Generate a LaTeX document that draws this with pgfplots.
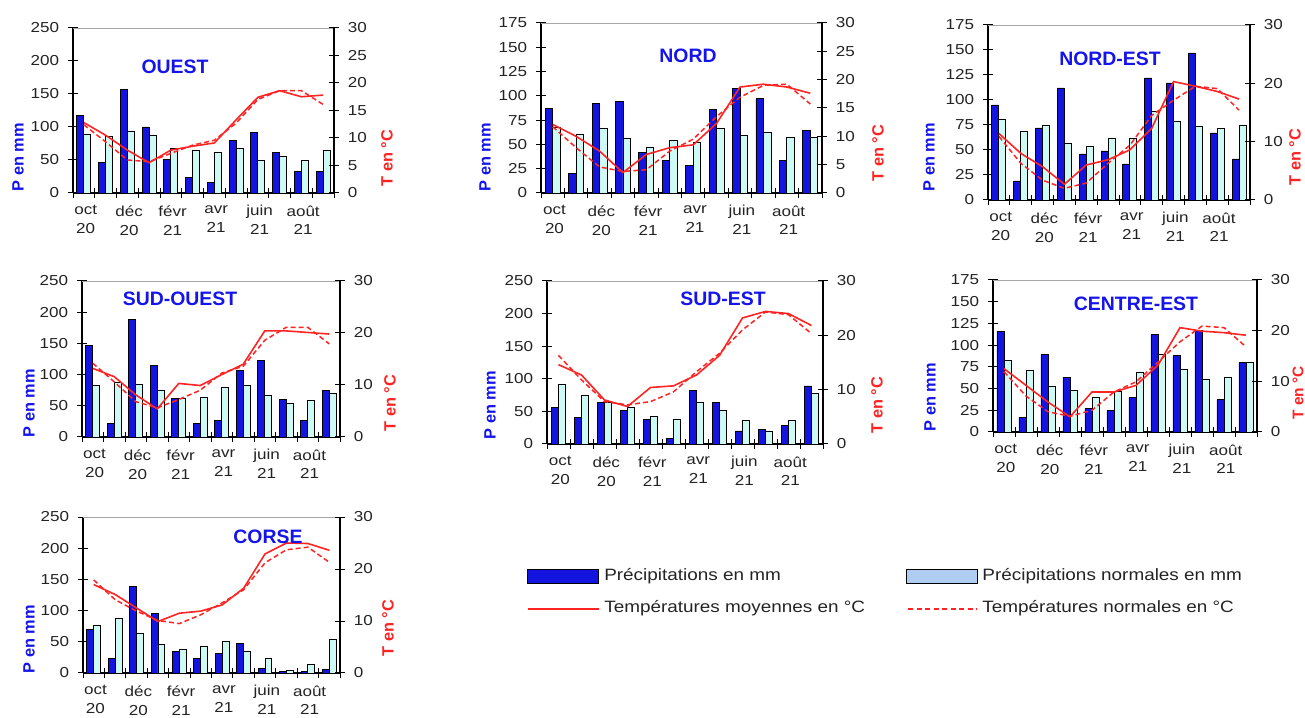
\documentclass[border=0pt]{standalone}
\usepackage{fontspec}
\setmainfont{Liberation Sans}
\usepackage{graphicx}
\usepackage{pgfplots}
\usepackage{pgfplotstable}
\pgfplotsset{compat=1.18}

\definecolor{pblue}{RGB}{20,20,225}
\definecolor{pnorm}{RGB}{205,250,245}
\definecolor{lgnorm}{RGB}{175,205,240}
\definecolor{tred}{RGB}{255,35,35}
\definecolor{tblue}{RGB}{20,20,235}
\definecolor{ticktext}{RGB}{35,35,35}

% m = month index (0 = oct 20 ... 11 = sept 21)
\pgfplotstableread{
m P PN T TN
0 117 89 12.8 12.4
1 46 86 10.5 9.3
2 157 94 7.8 6.0
3 100 87 5.5 5.7
4 51 67 7.8 7.2
5 24 64 8.5 8.7
6 16 62 9.1 9.6
7 80 67 13.3 12.7
8 92 49 17.4 17.0
9 62 55 18.6 18.6
10 32 50 17.5 18.6
11 32 64 17.8 16.1
}\ouest
\pgfplotstableread{
m P PN T TN
0 87 67 12.1 11.7
1 20 60 10.0 8.0
2 92 66 7.4 4.6
3 94 56 3.6 3.8
4 42 47 6.8 4.1
5 33 54 8.0 7.4
6 28 52 8.5 9.5
7 86 66 12.3 13.5
8 108 59 18.7 16.9
9 97 62 19.2 19.0
10 33 57 18.7 19.2
11 64 57 17.6 15.7
}\nord
\pgfplotstableread{
m P PN T TN
0 95 81 11.4 10.9
1 19 69 8.0 6.3
2 72 75 5.7 3.4
3 112 57 2.7 2.0
4 46 54 6.0 2.9
5 49 62 6.9 6.3
6 36 62 8.6 9.4
7 122 89 12.3 14.5
8 117 79 20.3 17.1
9 147 74 19.5 19.5
10 67 72 18.6 19.1
11 41 75 17.3 15.4
}\nordest
\pgfplotstableread{
m P PN T TN
0 146 82 13.2 14.2
1 21 88 11.6 10.6
2 189 85 8.1 6.8
3 114 74 5.4 5.6
4 61 61 10.3 7.2
5 21 64 9.9 9.0
6 27 80 12.0 12.3
7 106 82 14.0 13.6
8 122 66 20.4 18.6
9 60 53 20.4 21.1
10 27 58 20.1 21.1
11 74 69 19.8 17.9
}\sudouest
\pgfplotstableread{
m P PN T TN
0 56 92 14.6 16.3
1 40 74 12.7 11.8
2 64 64 8.1 7.8
3 51 56 6.9 7.2
4 38 43 10.4 7.8
5 8 38 10.7 9.6
6 82 64 12.7 13.3
7 64 51 16.3 16.7
8 20 36 23.2 21.0
9 23 20 24.4 24.3
10 28 36 24.0 23.8
11 89 77 21.8 20.3
}\sudest
\pgfplotstableread{
m P PN T TN
0 116 82 12.5 11.9
1 17 71 9.2 7.1
2 89 53 5.9 4.0
3 63 48 3.0 3.1
4 27 40 7.9 4.3
5 25 47 7.9 7.9
6 40 68 9.2 9.9
7 112 89 13.2 13.8
8 88 72 20.6 17.8
9 117 61 19.9 20.9
10 37 63 19.6 20.6
11 80 80 19.1 16.8
}\centreest
\pgfplotstableread{
m P PN T TN
0 69 77 17.0 17.9
1 24 88 15.1 14.1
2 138 64 12.5 11.9
3 95 45 9.9 10.1
4 35 37 11.5 9.5
5 24 43 11.9 11.2
6 32 51 13.1 13.5
7 48 35 16.3 16.0
8 8 24 22.9 21.2
9 2 4 25.0 23.7
10 2 13 24.9 24.2
11 5 53 23.6 21.3
}\corse

\pgfplotsset{
  ticklab/.style={
    tick label style={font=\fontsize{14.5}{19}\selectfont, text=ticktext, xscale=1.18},
    /pgf/number format/assume math mode=true,
  },
  pleft/.style={
    scale only axis, xmin=-0.5, xmax=11.5, ymin=0,
    axis x line*=bottom, axis y line*=left,
    xtick={0,2,...,10},
    xticklabels={{oct\\20},{déc\\20},{févr\\21},{avr\\21},{juin\\21},{août\\21}},
    minor xtick={-0.5,0.5,...,11.5},
    every major x tick/.append style={draw=none},
    tick align=center, major tick length=10bp, minor tick length=10bp,
    axis line style={black, line width=1.1bp},
    every tick/.append style={black, line width=1bp},
    ticklab,
    xticklabel style={align=center, yshift=-4bp, xshift=1.5bp},
    yticklabel style={xshift=-4bp},
    after end axis/.code={\draw[gray!70, line width=0.8bp] (rel axis cs:0,1) -- (rel axis cs:1,1);},
  },
  pright/.style={
    scale only axis, xmin=-0.5, xmax=11.5, ymin=0, ymax=30,
    axis x line=none, axis y line*=right,
    tick align=center, major tick length=10bp,
    axis line style={black, line width=1.1bp},
    every tick/.append style={black, line width=1bp},
    ticklab,
    yticklabel style={xshift=4bp},
  },
  barP/.style={ybar, bar width=0.32, bar shift=-0.16, fill=pblue, draw=black, line width=0.9bp},
  barN/.style={ybar, bar width=0.32, bar shift=0.16, fill=pnorm, draw=black, line width=0.9bp},
  lineT/.style={tred, line width=1.6bp, no marks},
  lineN/.style={tred, line width=1.5bp, dash pattern=on 5bp off 3bp, no marks},
}

% #1 table, #2 x0, #3 y0, #4 width, #5 height, #6 ymax, #7 ystep, #8 tstep
\newcommand{\panel}[8]{%
  \begin{axis}[pleft, at={(#2bp,#3bp)}, anchor=south west, width=#4bp, height=#5bp,
      ymax=#6, ytick={0,#7,...,#6}]
    \addplot[barP] table[x=m,y=P]{#1};
    \addplot[barN] table[x=m,y=PN]{#1};
  \end{axis}
  \begin{axis}[pright, at={(#2bp,#3bp)}, anchor=south west, width=#4bp, height=#5bp,
      ytick={0,#8,...,30}]
    \addplot[lineT] table[x=m,y=T]{#1};
    \addplot[lineN] table[x=m,y=TN]{#1};
  \end{axis}
}

\tikzset{
  ttl/.style={font=\fontsize{19.5}{22}\selectfont\bfseries, text=tblue},
  plab/.style={rotate=90, font=\fontsize{16.4}{18}\selectfont\bfseries, text=tblue},
  tlab/.style={rotate=90, font=\fontsize{16.4}{18}\selectfont\bfseries, text=tred},
}

\begin{document}
\begin{tikzpicture}
\useasboundingbox (0,0) rectangle (1305bp,718bp);

\panel{\ouest}{73}{525}{261}{165}{250}{50}{5}
\panel{\nord}{541}{525}{281}{170}{175}{25}{5}
\panel{\nordest}{988}{518}{262}{175}{175}{25}{10}
\panel{\sudouest}{82}{281}{258}{156}{250}{50}{10}
\panel{\sudest}{547}{274}{276}{163}{250}{50}{10}
\panel{\centreest}{993}{286}{264}{152}{175}{25}{10}
\panel{\corse}{83}{45}{257}{156}{250}{50}{10}

% legend
\begin{axis}[at={(527bp,151bp)}, anchor=north west, hide axis, scale only axis,
    width=1bp, height=1bp, xmin=0, xmax=1, ymin=0, ymax=1,
    legend columns=2, legend cell align=left,
    legend style={at={(0,1)}, anchor=north west, draw=none, fill=none,
      inner sep=0pt, outer sep=0pt, row sep=14bp,
      nodes={inner sep=1.5bp, text height=12bp, text depth=3.5bp,
        font=\fontsize{16.5}{18}\selectfont, text=ticktext},
      /tikz/every even column/.append style={column sep=39bp}}]
  \addlegendimage{legend image code/.code={\draw[fill=pblue, draw=black, line width=1bp] (0bp,-7bp) rectangle (71bp,7bp);}}
  \addlegendentry{\hspace{3bp}\scalebox{1.15}[1]{Précipitations en mm}}
  \addlegendimage{legend image code/.code={\draw[fill=lgnorm, draw=black, line width=1bp] (0bp,-7bp) rectangle (71bp,7bp);}}
  \addlegendentry{\hspace{3bp}\scalebox{1.15}[1]{Précipitations normales en mm}}
  \addlegendimage{legend image code/.code={\draw[draw=tred, line width=1.8bp] (0bp,0bp) -- (71bp,0bp);}}
  \addlegendentry{\hspace{3bp}\scalebox{1.15}[1]{Températures moyennes en °C}}
  \addlegendimage{legend image code/.code={\draw[draw=tred, line width=1.8bp, dash pattern=on 5bp off 3.5bp] (2bp,0bp) -- (71bp,0bp);}}
  \addlegendentry{\hspace{3bp}\scalebox{1.15}[1]{Températures normales en °C}}
\end{axis}

% titles
\node[ttl] at (175bp,651bp) {OUEST};
\node[ttl] at (688bp,662bp) {NORD};
\node[ttl] at (1110bp,659bp) {NORD-EST};
\node[ttl] at (180bp,419bp) {SUD-OUEST};
\node[ttl] at (723bp,419bp) {SUD-EST};
\node[ttl] at (1136bp,414bp) {CENTRE-EST};
\node[ttl] at (268bp,181bp) {CORSE};

% axis labels
\node[plab] at (18bp,561bp) {P en mm};
\node[plab] at (485bp,561bp) {P en mm};
\node[plab] at (929bp,561bp) {P en mm};
\node[plab] at (29bp,315bp) {P en mm};
\node[plab] at (490bp,313bp) {P en mm};
\node[plab] at (930bp,321bp) {P en mm};
\node[plab] at (29bp,79bp) {P en mm};

\node[tlab] at (387bp,560bp) {T en °C};
\node[tlab] at (878bp,565bp) {T en °C};
\node[tlab] at (1295bp,561bp) {T en °C};
\node[tlab] at (390bp,315bp) {T en °C};
\node[tlab] at (877bp,313bp) {T en °C};
\node[tlab, font=\fontsize{15.5}{17}\selectfont\bfseries] at (1298bp,325bp) {T en °C};
\node[tlab] at (388bp,90bp) {T en °C};
\end{tikzpicture}
\end{document}
